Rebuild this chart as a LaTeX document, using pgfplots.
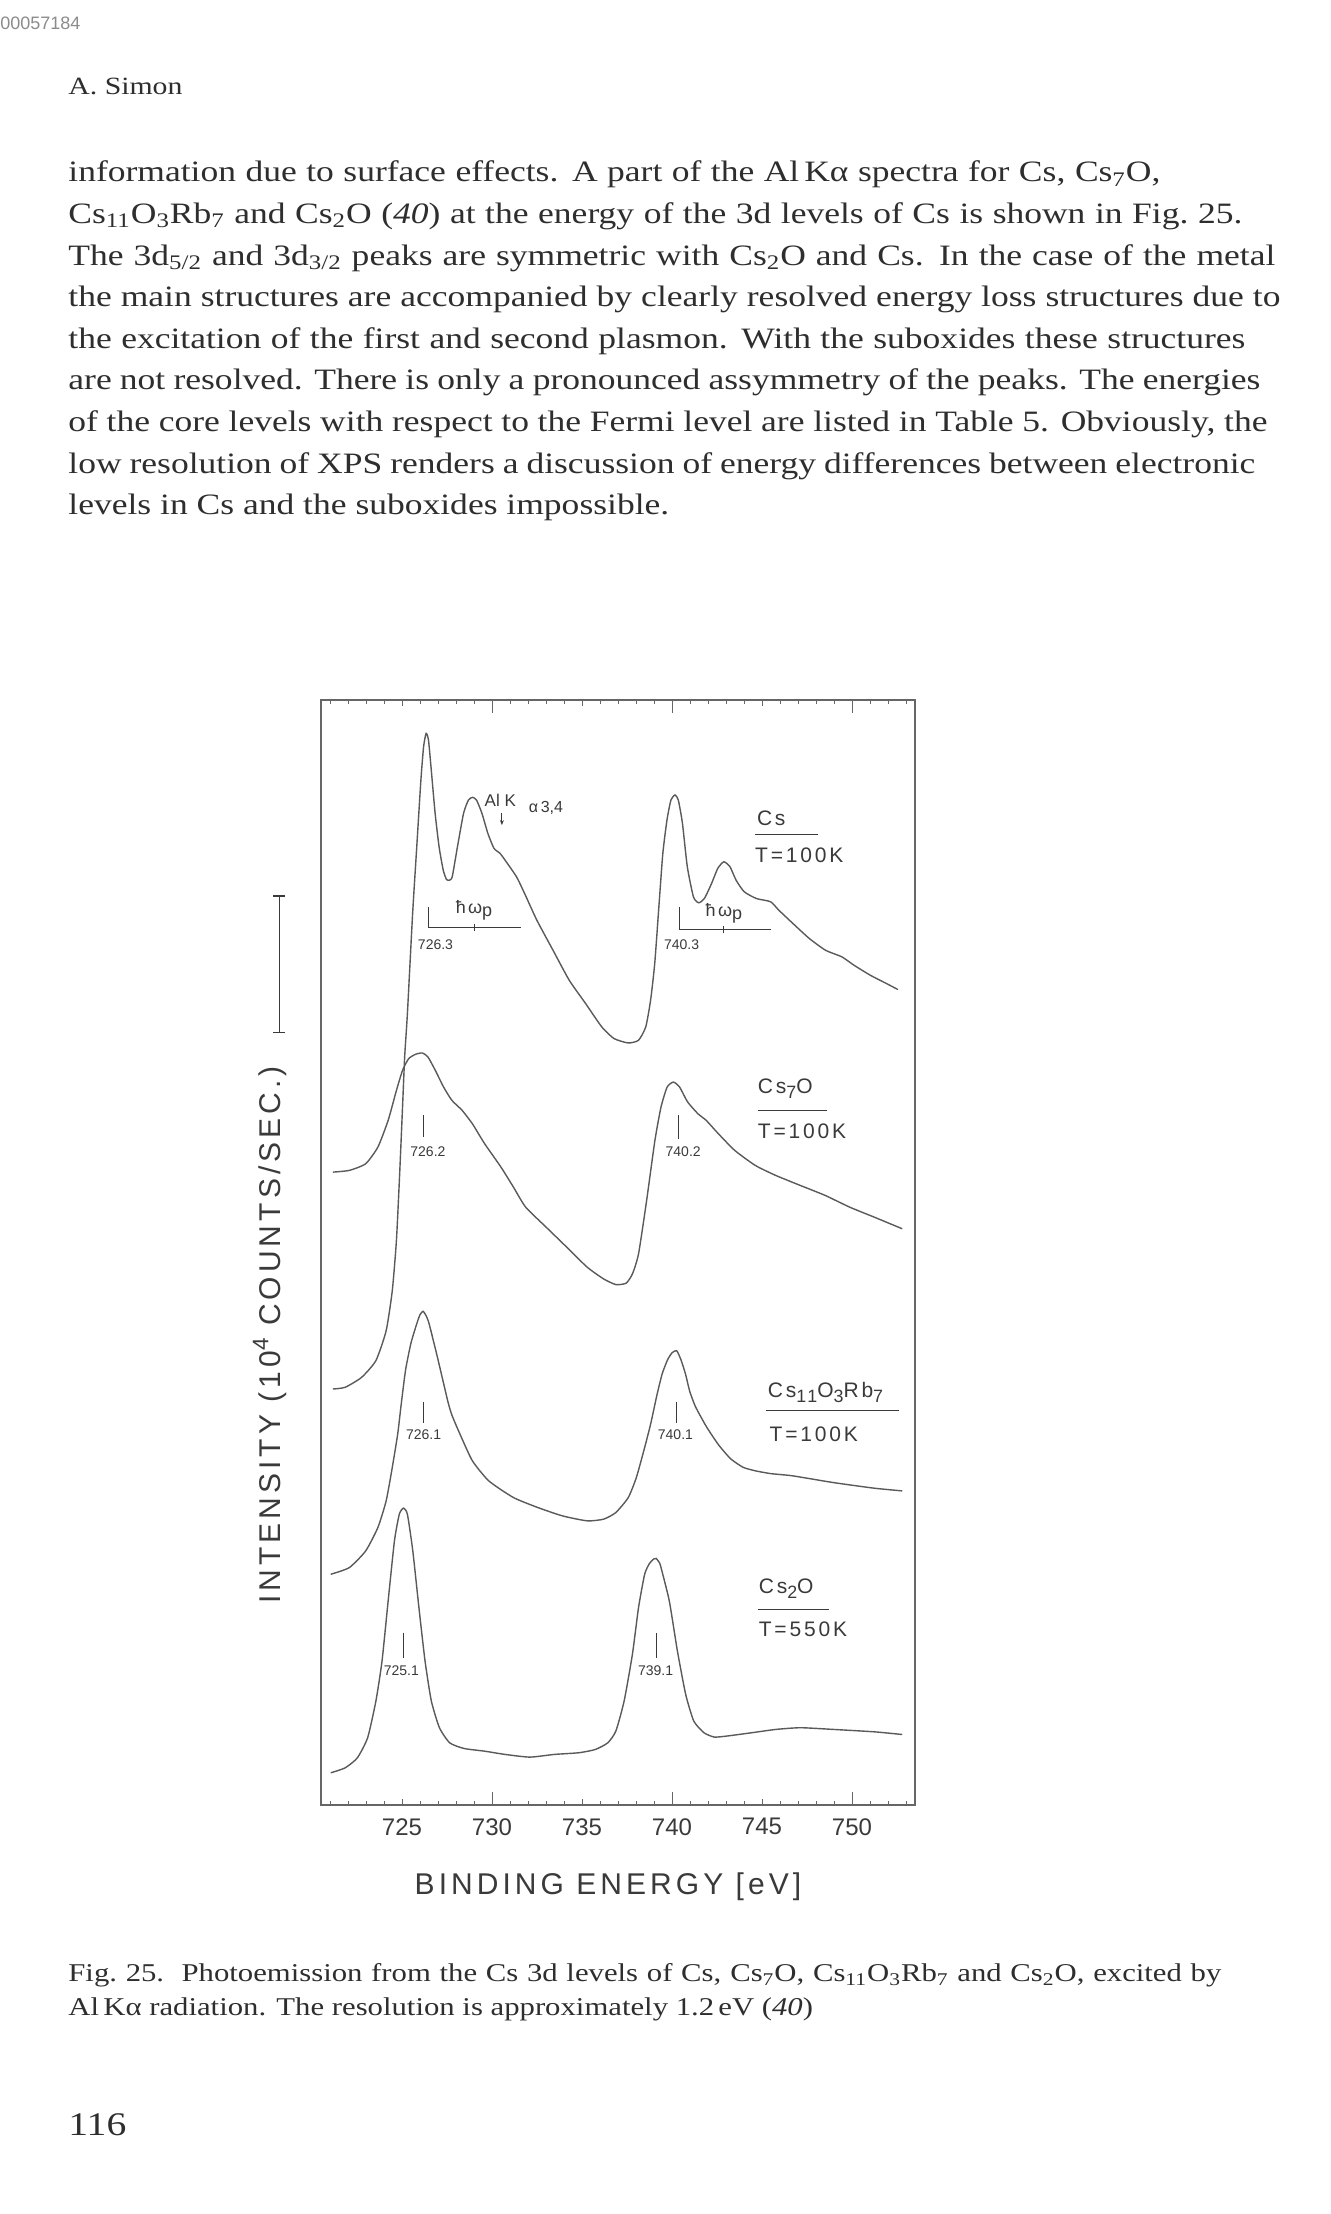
\documentclass[border=0pt]{standalone}
\usepackage{pgfplots}
\pgfplotsset{compat=1.18}
\usetikzlibrary{arrows.meta}
\usepackage{fontspec}
\setmainfont{Liberation Serif}[FakeStretch=1.2]
\newfontfamily\lbl{Liberation Sans}[LetterSpace=13.5]
\newfontfamily\lblp{Liberation Sans}
\definecolor{ink}{HTML}{3A3A3A}
\definecolor{curve}{HTML}{5A5A5A}
\definecolor{txt}{HTML}{2E2E2E}
\newcommand\sbs[1]{\raisebox{-0.45ex}{\scalebox{0.85}{#1}}}
\begin{document}
\begin{tikzpicture}
\fill[white] (0,0) rectangle (665.5pt,-1107pt);
\path[use as bounding box] (0,0) rectangle (665.5pt,-1107pt);
% header
\node[anchor=base west, inner sep=0pt, text=black!45] at (0pt,-14.8pt) {\lblp\fontsize{9}{9}\selectfont 00057184};
\node[anchor=base west, inner sep=0pt, text=txt] at (34pt,-47.5pt) {\fontsize{12.4}{14}\selectfont A. Simon};
% paragraph
\begin{scope}[every node/.style={anchor=base west, inner sep=0pt, text=txt, font=\fontsize{14.8}{17}\selectfont}]
\node at (34pt,-90.85pt) {\makebox[546pt][s]{information due to surface effects. A part of the Al\,Kα spectra for Cs, Cs\textsubscript{7}O,}};
\node at (34pt,-111.68pt) {\makebox[587pt][s]{Cs\textsubscript{11}O\textsubscript{3}Rb\textsubscript{7} and Cs\textsubscript{2}O (\textit{40}) at the energy of the 3d levels of Cs is shown in Fig.~25.}};
\node at (34pt,-132.51pt) {\makebox[603.5pt][s]{The 3d\textsubscript{5/2} and 3d\textsubscript{3/2} peaks are symmetric with Cs\textsubscript{2}O and Cs. In the case of the metal}};
\node at (34pt,-153.34pt) {\makebox[606pt][s]{the main structures are accompanied by clearly resolved energy loss structures due to}};
\node at (34pt,-174.17pt) {\makebox[588.5pt][s]{the excitation of the first and second plasmon. With the suboxides these structures}};
\node at (34pt,-195.0pt) {\makebox[596pt][s]{are not resolved. There is only a pronounced assymmetry of the peaks. The energies}};
\node at (34pt,-215.83pt) {\makebox[599.5pt][s]{of the core levels with respect to the Fermi level are listed in Table 5. Obviously, the}};
\node at (34pt,-236.66pt) {\makebox[593.5pt][s]{low resolution of XPS renders a discussion of energy differences between electronic}};
\node at (34pt,-257.49pt) {levels in Cs and the suboxides impossible.};
\end{scope}
% caption
\begin{scope}[every node/.style={anchor=base west, inner sep=0pt, text=txt, font=\fontsize{12.8}{15}\selectfont}]
\node at (34pt,-990.8pt) {\makebox[576.5pt][s]{Fig.~25.\ \ Photoemission from the Cs 3d levels of Cs, Cs\textsubscript{7}O, Cs\textsubscript{11}O\textsubscript{3}Rb\textsubscript{7} and Cs\textsubscript{2}O, excited by}};
\node at (34pt,-1007.5pt) {Al\,Kα radiation. The resolution is approximately 1.2\,eV (\textit{40})};
\end{scope}
\node[anchor=base west, inner sep=0pt, text=txt] at (34pt,-1067.5pt) {\fontsize{16.5}{18}\selectfont 116};

\begin{axis}[
  at={(160.5pt,-902.5pt)}, anchor=south west,
  scale only axis, width=297pt, height=552.5pt,
  xmin=720.5, xmax=753.5, ymin=0, ymax=782,
  axis line style={draw=black!60, line width=0.6pt},
  xtick={725,730,...,750},
  xticklabels={725,730,735,740,745,750},
  minor xtick={721,...,753},
  major tick length=3pt, minor tick length=2pt,
  tick style={draw=black!60, line width=0.5pt},
  extra x ticks={730,740,750},
  extra x tick labels={,,},
  extra x tick style={major tick length=6.5pt},
  ytick=\empty,
  xticklabel style={font=\lblp\fontsize{12}{12}\selectfont, text=ink, inner sep=0pt, yshift=-6.5pt},
  clip=false,
  every axis plot post/.append style={draw=curve, line width=0.7pt, smooth, tension=0.35, mark=none},
]
% Cs
\addplot coordinates {(721.16,294.4) (721.84,295.6) (722.75,302.6) (723.55,314.5) (724.12,335.7) (724.46,364) (724.69,399.5) (724.87,446.7) (725.03,494) (725.15,530) (725.30,560.1) (725.59,630.9) (725.82,678.2) (726.05,725.4) (726.20,749.0) (726.34,758.4) (726.47,753.7) (726.61,734.8) (726.84,701.8) (727.06,678.1) (727.29,661.6) (727.47,655.0) (727.63,654.5) (727.79,656.9) (728.08,678.1) (728.42,701.8) (728.69,711.2) (728.92,713.1) (729.14,711.2) (729.44,701.8) (729.77,687.6) (730.11,677.0) (730.45,673.4) (730.79,667.5) (731.36,656.9) (731.81,645.1) (732.49,626.2) (733.39,604.9) (734.29,583.7) (735.20,567.2) (736.10,550.6) (736.78,542.4) (737.57,539.3) (738.14,541.2) (738.54,550.6) (738.81,569.5) (739.04,595.5) (739.27,635.6) (739.49,673.4) (739.72,697.0) (739.94,711.2) (740.17,714.8) (740.35,711.2) (740.58,694.7) (740.85,664.0) (741.19,642.7) (741.48,638.5) (741.80,641.5) (742.20,652.2) (742.54,662.8) (742.88,667.5) (743.22,664.0) (743.56,654.5) (744.01,646.3) (744.69,641.5) (745.48,639.2) (745.93,633.3) (746.72,623.8) (747.63,613.2) (748.53,604.9) (749.44,600.2) (750.11,594.3) (751.02,587.2) (751.92,581.3) (752.55,577.1)};
% Cs7O
\addplot coordinates {(721.16,447.9) (722.07,449.1) (722.98,453.8) (723.66,465.6) (724.23,484.5) (724.69,505.7) (725.03,519.9) (725.37,528.2) (725.76,531.3) (726.13,532.2) (726.44,529.4) (726.85,519.9) (727.31,508.1) (727.77,498.7) (728.34,491.6) (728.91,482.1) (729.59,468.0) (730.50,451.4) (731.19,437.3) (731.87,423.1) (733.01,408.9) (734.15,394.8) (735.29,380.6) (736.20,372.3) (736.88,368.3) (737.45,369.3) (737.80,375.8) (738.14,390.0) (738.59,427.8) (739.05,470.3) (739.39,494.0) (739.73,508.1) (740.08,511.6) (740.42,508.1) (740.87,497.5) (741.44,489.2) (741.90,484.5) (742.58,475.0) (743.49,463.2) (744.63,452.6) (745.77,445.5) (747.14,438.4) (748.51,431.4) (749.87,423.1) (751.24,416.0) (752.79,407.8)};
% Cs11O3Rb7
\addplot coordinates {(721.04,163.3) (722.07,168) (722.98,179.8) (723.66,196.4) (724.12,215.3) (724.46,238.9) (724.76,262.5) (724.95,283) (725.2,308) (725.5,327) (725.83,341) (726.0,347) (726.17,349.4) (726.35,346) (726.51,340.4) (726.97,316.8) (727.54,286) (727.77,276) (728.22,262.5) (728.91,243.6) (729.82,229.4) (731.19,217.6) (732.55,210.5) (733.92,204.6) (735.29,201.1) (736.20,202.3) (736.88,207) (737.57,217.6) (738.02,231.8) (738.48,253) (738.82,270) (739.16,290) (739.45,305) (739.75,315) (740.0,320) (740.26,321.5) (740.5,315) (740.75,305) (740.98,293) (741.3,282) (741.9,268) (742.58,255) (743.26,245) (743.95,239) (744.63,236.5) (745.5,234.5) (746.68,233) (748.96,228.2) (751.24,224.2) (752.79,222.3)};
% Cs2O
\addplot coordinates {(721.04,22.8) (721.84,26.3) (722.52,33.4) (723.09,47.6) (723.55,73.6) (723.89,101.9) (724.23,144.4) (724.58,186.9) (724.85,205.8) (725.08,210.1) (725.30,205.8) (725.60,179.8) (725.94,139.7) (726.28,101.9) (726.63,73.6) (727.08,54.7) (727.65,44.0) (728.45,40.0) (729.59,38.1) (730.73,35.8) (732.10,33.9) (733.46,35.8) (734.83,37.0) (735.74,39.3) (736.43,44.0) (736.88,52.3) (737.34,73.6) (737.80,106.6) (738.14,139.7) (738.48,163.3) (738.75,171) (739.0,174.2) (739.12,174.5) (739.3,171.5) (739.39,168) (739.85,144.4) (740.30,109.0) (740.76,78.3) (741.21,59.4) (741.78,51.1) (742.35,48.1) (743.04,48.8) (744.40,51.1) (745.77,53.5) (747.14,54.7) (748.96,53.5) (751.24,51.8) (752.79,49.9)};

% annotations
\begin{scope}[ink, line width=0.5pt]
\draw (axis cs:726.45,635.6) -- (axis cs:726.45,621) -- (axis cs:731.6,621);
\draw (axis cs:729.0,618.5) -- (axis cs:729.0,623.5);
\draw (axis cs:740.39,635.6) -- (axis cs:740.39,619.6) -- (axis cs:745.48,619.6);
\draw (axis cs:742.88,617) -- (axis cs:742.88,622);
\draw (axis cs:726.22,488) -- (axis cs:726.22,472.7);
\draw (axis cs:740.37,488) -- (axis cs:740.37,471.5);
\draw (axis cs:726.17,285) -- (axis cs:726.17,270);
\draw (axis cs:740.26,285) -- (axis cs:740.26,270);
\draw (axis cs:725.1,122) -- (axis cs:725.1,104);
\draw (axis cs:739.12,122) -- (axis cs:739.12,104);
\draw[-{Stealth[length=2.5pt,width=2pt]}] (axis cs:730.55,702) -- (axis cs:730.55,693.5);
\draw (axis cs:744.6,687) -- (axis cs:748.1,687);
\draw (axis cs:744.75,491.6) -- (axis cs:748.6,491.6);
\draw (axis cs:745.2,279.5) -- (axis cs:752.6,279.5);
\draw (axis cs:744.8,138.5) -- (axis cs:748.7,138.5);
\end{scope}
\begin{scope}[every node/.style={inner sep=0pt, text=ink, font=\lblp\fontsize{7}{7}\selectfont}]
\node at (axis cs:726.86,608.5) {726.3};
\node at (axis cs:740.53,608.5) {740.3};
\node at (axis cs:726.44,462) {726.2};
\node at (axis cs:740.62,462) {740.2};
\node at (axis cs:726.2,262) {726.1};
\node at (axis cs:740.19,262) {740.1};
\node at (axis cs:724.96,94.8) {725.1};
\node at (axis cs:739.09,94.8) {739.1};
\end{scope}
\begin{scope}[every node/.style={inner sep=0pt, text=ink, font=\lbl\fontsize{10.5}{10.5}\selectfont}]
\node[font=\lbl\fontsize{9}{9}\selectfont] at (axis cs:729.0,633) {ħω\raisebox{-0.3ex}{p}};
\node[font=\lbl\fontsize{9}{9}\selectfont] at (axis cs:742.88,631) {ħω\raisebox{-0.3ex}{p}};
\node[font=\lblp\fontsize{8.5}{8.5}\selectfont] at (axis cs:730.46,711) {Al K};
\node[font=\lblp\fontsize{8}{8}\selectfont] at (axis cs:733.0,705.5) {α\,3,4};
\node[anchor=base west] at (axis cs:744.7,693.5) {Cs};
\node[anchor=base west] at (axis cs:744.6,667) {T=100K};
\node[anchor=base west] at (axis cs:744.75,503.5) {Cs\sbs{7}O};
\node[anchor=base west] at (axis cs:744.75,471.5) {T=100K};
\node[anchor=base west] at (axis cs:745.3,288.5) {Cs\sbs{11}O\sbs{3}Rb\sbs{7}};
\node[anchor=base west] at (axis cs:745.4,257.5) {T=100K};
\node[anchor=base west] at (axis cs:744.8,150) {Cs\sbs{2}O};
\node[anchor=base west] at (axis cs:744.8,119) {T=550K};
\end{scope}
\end{axis}

% axis labels and scale bar
\node[inner sep=0pt, text=ink, font=\lbl\fontsize{15}{15}\selectfont] at (304pt,-943.3pt) {BINDING ENERGY [eV]};
\node[inner sep=0pt, rotate=90, text=ink, font=\lbl\fontsize{15}{15}\selectfont] at (135pt,-667.5pt) {INTENSITY (10\raisebox{0.8ex}{\scalebox{0.75}{4}} COUNTS/SEC.)};
\begin{scope}[ink, line width=0.6pt]
\draw (139.6pt,-448pt) -- (139.6pt,-516.4pt);
\draw (136.6pt,-448pt) -- (142.6pt,-448pt);
\draw (136.6pt,-516.4pt) -- (142.6pt,-516.4pt);
\end{scope}
\end{tikzpicture}
\end{document}
